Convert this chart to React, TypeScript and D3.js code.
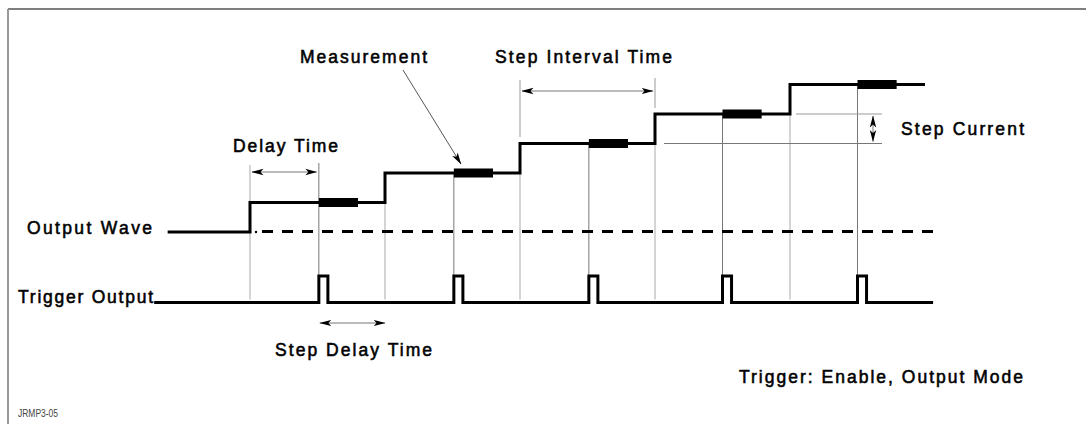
import React from 'react';
import * as d3 from 'd3';

// time is in units of one step interval, level in units of one step current
const stepTimes = [0, 1, 2, 3, 4];
const stepLevels = [1, 2, 3, 4, 5];
const waveSpan = [-0.61, 5.0];
const triggerSpan = [-0.71, 5.06];
const measureTimes = [0.51, 1.51, 2.51, 3.5, 4.5];
const measureLength = 0.29;
const pulseLength = 0.067;

const W = 1086;
const H = 424;
const FONT = "'Liberation Sans', Arial, sans-serif";

const x = d3.scaleLinear().domain([-0.6, 5.0]).range([169, 925]);
const yWave = d3.scaleLinear().domain([0, 5]).range([232, 84.5]);
const yTrig = d3.scaleLinear().domain([0, 1]).range([302.5, 276]);

const Label = ({ x, y, w, children, size = 17.5, bold = true, fill = '#000', adjust = 'spacing' }: any) => (
  <text x={x} y={y} textLength={w} lengthAdjust={adjust} fontFamily={FONT}
    fontSize={size} fontWeight={400} fill={fill}
    stroke={bold ? fill : 'none'} strokeWidth={bold ? 0.55 : 0}>{children}</text>
);

const App: React.FC = () => {
  const wavePts: [number, number][] = [[waveSpan[0], 0]];
  stepTimes.forEach((t, i) => wavePts.push([t, stepLevels[i]]));
  wavePts.push([waveSpan[1], stepLevels[stepLevels.length - 1]]);

  const stepLine = d3.line<[number, number]>()
    .x(d => x(d[0]))
    .y(d => yWave(d[1]))
    .curve(d3.curveStepAfter);

  const trigPts: [number, number][] = [[triggerSpan[0], 0]];
  measureTimes.forEach(t => {
    trigPts.push([t, 0], [t, 1], [t + pulseLength, 1], [t + pulseLength, 0]);
  });
  trigPts.push([triggerSpan[1], 0]);
  const trigLine = d3.line<[number, number]>()
    .x(d => x(d[0]))
    .y(d => yTrig(d[1]));

  const levelAt = (t: number) => {
    let lv = 0;
    stepTimes.forEach((s, i) => { if (t >= s) lv = stepLevels[i]; });
    return lv;
  };

  const guideBottom = yTrig(0) - 3;

  return (
    <svg width={W} height={H} style={{ position: 'absolute', left: 0, top: 0, background: '#fff' }}>
      <defs>
        <marker id="ah" viewBox="0 0 12 8" refX="11.5" refY="4" markerWidth="12" markerHeight="8"
          markerUnits="userSpaceOnUse" orient="auto-start-reverse">
          <path d="M0,0.8 L12,4 L0,7.2 L3,4 Z" fill="#000" />
        </marker>
      </defs>

      {/* frame */}
      <line x1={8} y1={9} x2={W} y2={9} stroke="#555" strokeWidth={1.5} />
      <line x1={8} y1={9} x2={8} y2={H} stroke="#999" strokeWidth={2} />

      {/* guide lines at step instants */}
      {stepTimes.map((t, i) => (
        <line key={'s' + i} x1={x(t)} x2={x(t)}
          y1={i === 0 ? 165 : yWave(levelAt(t - 0.01))} y2={guideBottom}
          stroke="#aaa" strokeWidth={1} />
      ))}
      {/* guide lines at measurement start */}
      {measureTimes.map((t, i) => (
        <line key={'m' + i} x1={x(t)} x2={x(t)}
          y1={i === 0 ? 163 : yWave(levelAt(t))} y2={yTrig(1)}
          stroke="#777" strokeWidth={1} />
      ))}
      {/* step interval extension lines */}
      <line x1={x(2)} x2={x(2)} y1={80} y2={137} stroke="#999" strokeWidth={1} />
      <line x1={x(3)} x2={x(3)} y1={78} y2={108} stroke="#999" strokeWidth={1} />
      {/* step current reference lines */}
      <line x1={x(4) + 6} x2={882} y1={yWave(4)} y2={yWave(4)} stroke="#999" strokeWidth={1} />
      <line x1={x(3) + 9} x2={882} y1={yWave(3)} y2={yWave(3)} stroke="#777" strokeWidth={1} />

      {/* dashed zero line */}
      <circle cx={x(0) + 6} cy={yWave(0)} r={1.2} fill="#000" />
      <line x1={x(0) + 12} x2={x(triggerSpan[1])} y1={yWave(0) - 0.5} y2={yWave(0) - 0.5}
        stroke="#000" strokeWidth={3} strokeDasharray="11 9" />

      {/* output wave */}
      <path d={stepLine(wavePts) || ''} fill="none" stroke="#000" strokeWidth={3} strokeLinejoin="miter" />
      {measureTimes.map((t, i) => (
        <rect key={'b' + i} x={x(t)} width={x(t + measureLength) - x(t)}
          y={yWave(levelAt(t)) - 4.5} height={9} fill="#000" />
      ))}

      {/* trigger output */}
      <path d={trigLine(trigPts) || ''} fill="none" stroke="#000" strokeWidth={3} strokeLinejoin="miter" />

      {/* dimension arrows */}
      <line x1={x(0) + 2} x2={x(measureTimes[0]) - 2} y1={172} y2={172} stroke="#777" strokeWidth={1}
        markerStart="url(#ah)" markerEnd="url(#ah)" />
      <line x1={x(2) + 2} x2={x(3) - 2} y1={91} y2={91} stroke="#777" strokeWidth={1}
        markerStart="url(#ah)" markerEnd="url(#ah)" />
      <line x1={x(measureTimes[0]) + 1} x2={x(1)} y1={323} y2={323} stroke="#777" strokeWidth={1}
        markerStart="url(#ah)" markerEnd="url(#ah)" />
      <line x1={873} x2={873} y1={yWave(4) + 2} y2={yWave(3) - 2} stroke="#777" strokeWidth={1}
        markerStart="url(#ah)" markerEnd="url(#ah)" />
      <line x1={403} y1={70} x2={461} y2={164} stroke="#555" strokeWidth={1} markerEnd="url(#ah)" />

      {/* labels */}
      <Label x={300} y={63} w={127}>Measurement</Label>
      <Label x={495} y={63} w={177}>Step Interval Time</Label>
      <Label x={233} y={152} w={105}>Delay Time</Label>
      <Label x={901} y={135} w={123}>Step Current</Label>
      <Label x={27} y={234} w={125}>Output Wave</Label>
      <Label x={18} y={303} w={135}>Trigger Output</Label>
      <Label x={275} y={356} w={157}>Step Delay Time</Label>
      <Label x={739} y={383} w={284}>Trigger: Enable, Output Mode</Label>
      <Label x={18} y={417} w={40} size={10} bold={false} fill="#444" adjust="spacingAndGlyphs">JRMP3-05</Label>
    </svg>
  );
};

export default App;
